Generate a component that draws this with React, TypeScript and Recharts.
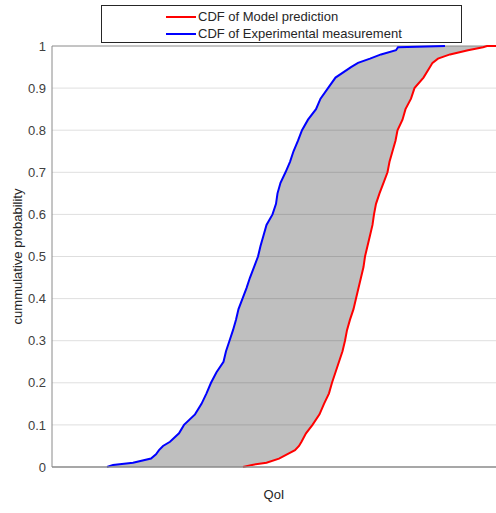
import React from 'react';
import { ComposedChart, Area, Line, XAxis, YAxis, ReferenceLine, Legend } from 'recharts';

// cumulative probability levels
const probability = [
  0, 0.005, 0.01, 0.02, 0.03, 0.04, 0.05, 0.06, 0.08, 0.1, 0.125, 0.15, 0.175, 0.2,
  0.225, 0.25, 0.275, 0.3, 0.325, 0.35, 0.375, 0.4, 0.425, 0.45, 0.475, 0.5, 0.525,
  0.55, 0.575, 0.6, 0.625, 0.65, 0.675, 0.7, 0.725, 0.75, 0.775, 0.8, 0.825, 0.85,
  0.875, 0.9, 0.925, 0.95, 0.96, 0.97, 0.98, 0.99, 0.997, 1, 1,
];

// QoI values (arbitrary units) for the experimental CDF (blue)
const experimentalMeasurement = [
  55, 61, 81, 99, 104, 107, 111, 118, 127, 132, 143, 149.5, 154.5, 159,
  164.5, 171.5, 174, 177.5, 181, 184, 186.5, 190.5, 194.5, 198, 202, 206, 208.5,
  211.5, 214.5, 220.5, 224, 225.5, 228.5, 233.5, 238, 241.5, 246, 250, 256, 264,
  268.5, 276, 283.5, 299, 306, 318, 329, 344, 346, 393, 393,
];

// QoI values (arbitrary units) for the model prediction CDF (red)
const modelPrediction = [
  191, 200, 214.5, 227, 235, 243, 247, 249.5, 254, 260.5, 267.5, 272, 277, 280,
  283.5, 287, 290.5, 293, 295, 298, 301.5, 304, 306.5, 309, 311.5, 313, 315.5,
  318, 320.5, 322, 324, 327.5, 331.5, 335.5, 337.5, 340.5, 343.5, 345.5, 350.5, 353.5,
  359, 362.5, 371.5, 378, 380.5, 386, 398, 416, 431, 435, 444,
];

const yTicks = [0, 0.1, 0.2, 0.3, 0.4, 0.5, 0.6, 0.7, 0.8, 0.9, 1];
const gridTicks = [0.1, 0.2, 0.3, 0.4, 0.5, 0.6, 0.7, 0.8, 0.9];
const xDomain = [0, 444];

const legendItems = [
  { label: 'CDF of Model prediction', color: '#ff0000' },
  { label: 'CDF of Experimental measurement', color: '#0000ff' },
];

const data = probability.map((p, i) => ({
  p,
  model: modelPrediction[i],
  experiment: experimentalMeasurement[i],
  band: [experimentalMeasurement[i], modelPrediction[i]],
}));

// horizontal grid lines drawn as thin series spanning the x domain
const gridData = gridTicks.map((t) => [
  { p: t, q: xDomain[0] },
  { p: t, q: xDomain[1] },
]);

const FONT = '"Liberation Sans", Arial, Helvetica, sans-serif';

const renderLegend = () => (
  <div
    style={{
      width: 361,
      height: 38,
      border: '1px solid #262626',
      background: '#fff',
      boxSizing: 'border-box',
      fontFamily: FONT,
      fontSize: 13,
      color: '#262626',
      position: 'relative',
    }}
  >
    {legendItems.map((it, i) => (
      <div
        key={it.label}
        style={{
          position: 'absolute',
          left: 64,
          top: 2 + i * 17,
          height: 17,
          display: 'flex',
          alignItems: 'center',
          whiteSpace: 'nowrap',
        }}
      >
        <span style={{ display: 'inline-block', width: 30, height: 2, background: it.color, marginRight: 2 }} />
        <span>{it.label}</span>
      </div>
    ))}
  </div>
);

export default function App() {
  return (
    <div style={{ position: 'absolute', left: 0, top: 0, background: '#fff' }}>
      <ComposedChart
        width={496}
        height={513}
        data={data}
        layout="vertical"
        margin={{ top: 46, right: 0, bottom: 0, left: 0 }}
      >
        <XAxis
          type="number"
          domain={xDomain}
          allowDataOverflow
          tick={false}
          tickLine={false}
          height={46}
          axisLine={{ stroke: '#8a8a8a', strokeWidth: 1.5 }}
          label={{
            value: 'QoI',
            position: 'insideBottom',
            offset: 14,
            style: { fontFamily: FONT, fontSize: 13, fill: '#262626' },
          }}
        />
        <YAxis
          type="number"
          dataKey="p"
          domain={[0, 1]}
          ticks={yTicks}
          reversed
          width={52}
          tickLine={false}
          tickSize={4}
          tickMargin={2}
          axisLine={{ stroke: '#8a8a8a', strokeWidth: 1 }}
          tick={{ fontFamily: FONT, fontSize: 13, fill: '#404040' }}
          label={{
            value: 'cummulative probability',
            angle: -90,
            position: 'insideLeft',
            offset: 17,
            style: { fontFamily: FONT, fontSize: 13, fill: '#262626', textAnchor: 'middle' },
          }}
        />
        <Area
          dataKey="band"
          type="linear"
          fill="#bfbfbf"
          fillOpacity={1}
          stroke="none"
          isAnimationActive={false}
        />
        {gridData.map((seg, i) => (
          <Line
            key={`grid-${gridTicks[i]}`}
            data={seg}
            dataKey="q"
            type="linear"
            stroke="#000000"
            strokeOpacity={0.13}
            strokeWidth={1}
            dot={false}
            activeDot={false}
            legendType="none"
            isAnimationActive={false}
          />
        ))}
        <ReferenceLine y={1} stroke="#8a8a8a" strokeWidth={1} ifOverflow="visible" />
        <Line
          dataKey="model"
          type="linear"
          stroke="#ff0000"
          strokeWidth={2}
          dot={false}
          isAnimationActive={false}
        />
        <Line
          dataKey="experiment"
          type="linear"
          stroke="#0000ff"
          strokeWidth={2}
          dot={false}
          isAnimationActive={false}
        />
        <Legend
          layout="vertical"
          align="center"
          verticalAlign="middle"
          content={renderLegend}
          wrapperStyle={{ left: 101, top: 5, width: 361, height: 38 }}
        />
      </ComposedChart>
    </div>
  );
}
